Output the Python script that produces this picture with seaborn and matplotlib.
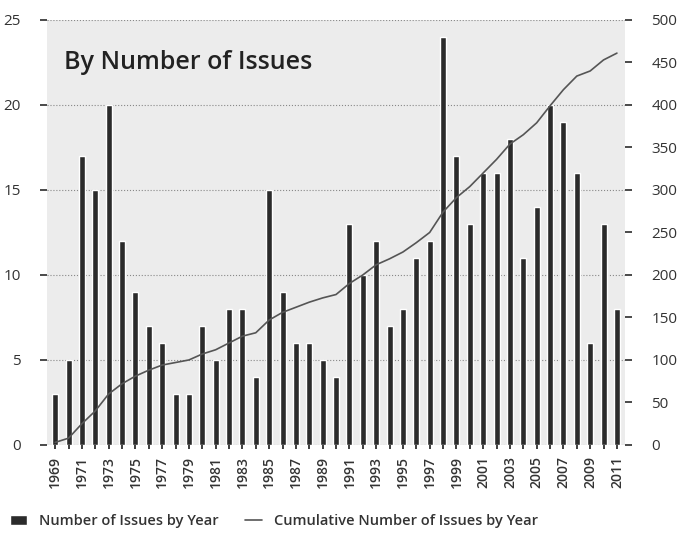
import pandas as pd
import matplotlib.pyplot as plt
import seaborn as sns

# Issues per year
years = list(range(1969, 2012))
issues = [3, 5, 17, 15, 20, 12, 9, 7, 6, 3, 3, 7, 5, 8, 8, 4, 15, 9, 6, 6, 5, 4,
          13, 10, 12, 7, 8, 11, 12, 24, 17, 13, 16, 16, 18, 11, 14, 20, 19, 16, 6, 13, 8]
cumulative = [3, 8, 25, 40, 60, 72, 81, 88, 94, 97, 100, 107, 112, 120, 128, 132, 147,
              156, 162, 168, 173, 177, 190, 200, 212, 219, 227, 238, 250, 274, 291, 304,
              320, 336, 354, 365, 379, 399, 418, 434, 440, 453, 461]

df = pd.DataFrame({"year": years, "issues": issues, "cumulative": cumulative})

sns.set_theme(style="white")
plt.rcParams["font.family"] = ["Open Sans", "DejaVu Sans"]

fig = plt.figure(figsize=(6.83, 5.4), dpi=100)
ax = fig.add_axes([0.069, 0.176, 0.846, 0.787])
ax.set_facecolor("#ececec")

sns.barplot(data=df, x="year", y="issues", native_scale=True, color="#2b2b2b",
            width=0.45, saturation=1, ax=ax, label="Number of Issues by Year", zorder=3)
ax.set_ylim(0, 25)
ax.set_xlim(1968.4, 2011.6)
ax.set_yticks([0, 5, 10, 15, 20, 25])
ax.set_xticks(years)
ax.set_xticklabels([str(y) if (y - 1969) % 2 == 0 else "" for y in years],
                   rotation=90, fontsize=10, fontweight="semibold", color="#333333")
ax.tick_params(axis="y", labelsize=11, colors="#333333", length=5, pad=14, left=True)
ax.tick_params(axis="x", length=3, pad=5, bottom=True)
ax.grid(axis="y", linestyle=":", color="#888888", linewidth=0.8, zorder=0)
ax.set_axisbelow(True)
ax.set_xlabel("")
ax.set_ylabel("")
for s in ax.spines.values():
    s.set_visible(False)

ax2 = ax.twinx()
sns.lineplot(data=df, x="year", y="cumulative", color="#555555", linewidth=1.2,
             ax=ax2, label="Cumulative Number of Issues by Year")
ax2.set_ylim(0, 500)
ax2.set_yticks(range(0, 501, 50))
ax2.tick_params(axis="y", labelsize=11, colors="#333333", length=5, pad=14, right=True)
ax2.set_ylabel("")
for s in ax2.spines.values():
    s.set_visible(False)

ax.text(0.03, 0.93, "By Number of Issues", transform=ax.transAxes, fontsize=18,
        fontweight="semibold", color="#222222", va="top", ha="left", zorder=5)

h1, l1 = ax.get_legend_handles_labels()
h2, l2 = ax2.get_legend_handles_labels()
if ax.get_legend():
    ax.get_legend().remove()
if ax2.get_legend():
    ax2.get_legend().remove()
fig.legend(h1 + h2, l1 + l2, loc="lower left", bbox_to_anchor=(-0.005, -0.003), ncol=2,
           frameon=False, prop={"size": 10.5, "weight": "semibold"}, handlelength=1.2,
           columnspacing=1.8, labelcolor="#333333")

fig.savefig("out.png", dpi=100)
